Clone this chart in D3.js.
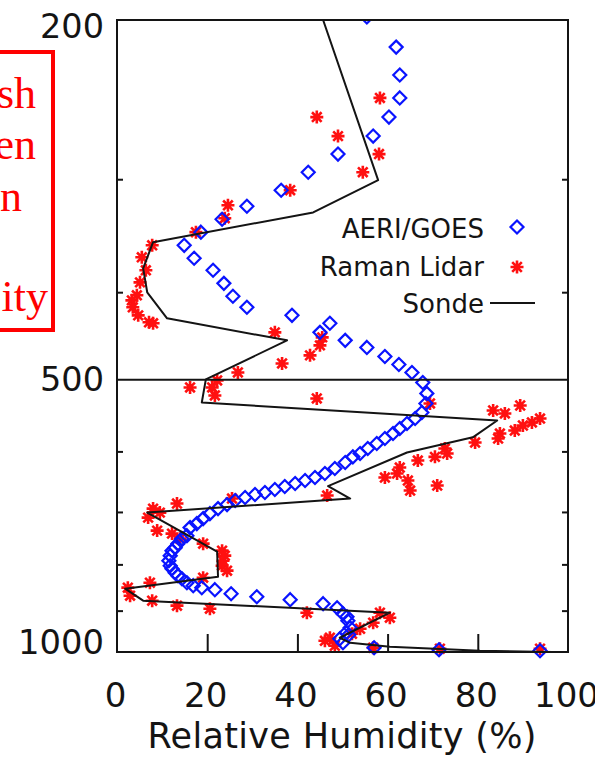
<!DOCTYPE html>
<html><head><meta charset="utf-8">
<script src="https://cdn.jsdelivr.net/npm/d3@7"></script>
<style>html,body{margin:0;padding:0;background:#fff;overflow:hidden}</style>
</head><body><svg id="c" width="595" height="762"></svg>
<script>
// ---------- data ----------
const xLabelValues = [0, 20, 40, 60, 80, 100];
const xTickValues = [20, 40, 60, 80];
const yLabelValues = [200, 500, 1000];
const yTickValues = [300, 400, 600, 700, 800, 900];
const xTitle = "Relative Humidity (%)";
const legendLabels = ["AERI/GOES", "Raman Lidar", "Sonde"];
const boxLines = ["sh", "en", "n", "", "ity"];

const sondeRH = [45.7,57.9,43.5,8.0,5.8,6.7,11.1,37.7,19.7,18.8,84.3,78.9,64.3,46.8,51.7,6.7,22.2,22.4,1.8,5.8,60.5,49.4,51.7,60.5,80.5,96.5];
const sondeP  = [200,300.7,326.5,352.2,376.4,400.1,427.5,452.2,499.5,529.7,554.6,578.9,601.7,655.4,676.5,701.1,774.5,825.5,851.0,877.5,904.8,964.4,976.8,986.9,996.8,1000];

const aeriRH = [55.4,61.9,62.7,62.7,60.3,56.8,49.0,42.4,36.4,28.8,23.3,18.6,14.9,17.1,21.3,23.7,25.7,28.8,38.8,47.2,45.0,50.6,55.4,59.4,62.5,65.4,67.8,
  68.7,68.5,67.6,66.1,64.3,62.7,61.2,59.4,57.6,55.6,53.9,52.3,50.6,48.3,46.1,43.9,41.7,39.5,37.2,35.0,32.8,30.6,28.4,26.2,24.4,22.4,20.6,19.1,17.7,16.2,
  15.5,14.4,13.5,12.9,12.2,11.8,11.5,11.8,12.2,12.9,13.5,14.4,15.5,16.9,18.8,21.7,25.3,31.0,38.4,45.7,48.8,50.1,51.0,51.2,51.7,50.8,51.4,49.4,50.1,57.0,71.4,93.8];
const aeriP = [198.5,214.3,230.1,243.9,256.1,268.8,281.4,294.7,308.5,321.4,332.2,343.3,355.0,366.9,378.3,391.1,404.2,415.7,424.3,433.0,443.1,452.2,460.4,471.1,480.8,490.7,503.4,
  517.6,531.0,543.4,551.8,558.9,566.0,573.3,580.6,588.1,595.6,603.2,608.4,617.2,626.8,634.8,641.3,646.2,651.2,656.2,661.2,666.3,669.7,674.8,680.0,687.0,694.1,703.0,712.0,721.1,728.5,
  743.6,749.3,758.9,766.6,772.5,782.4,792.5,802.7,808.8,817.1,823.3,829.7,838.2,844.6,848.9,853.2,862.0,868.6,875.2,884.2,893.3,907.1,914.1,923.4,940.0,952.1,957.0,966.8,976.8,989.2,994.3,996.8];

const lidarRH = [44.3,49.0,38.4,58.3,58.1,54.5,24.6,23.9,17.5,7.8,5.5,6.4,5.1,3.3,4.4,3.5,4.7,7.1,8.0,35.0,45.5,45.0,42.8,36.6,26.8,22.2,16.2,21.1,21.7,44.3,
  69.4,83.4,89.4,86.0,93.8,92.0,90.0,88.2,84.9,84.5,79.4,72.7,73.2,70.5,66.7,62.7,62.1,59.4,64.5,71.0,65.0,46.6,25.5,13.3,8.0,6.9,9.5,8.9,12.2,14.0,19.1,
  23.3,23.9,23.5,23.3,24.4,19.1,7.3,2.4,2.9,7.8,13.3,20.6,42.1,58.3,60.5,56.8,53.9,52.1,47.2,46.1,48.3,56.8,71.6,93.8];
const lidarP = [256.1,268.8,308.5,243.9,281.4,294.7,320.6,331.3,343.3,355.0,366.0,378.3,390.1,408.4,403.2,415.7,424.3,431.9,433.0,443.1,448.8,458.0,469.8,479.6,490.7,500.8,509.8,509.8,520.3,524.3,
  531.0,540.6,533.8,544.7,551.8,557.4,561.7,568.9,573.3,580.6,586.6,595.6,603.2,608.4,614.1,625.2,634.8,641.3,646.2,654.5,662.9,671.4,676.5,685.2,694.1,710.2,701.2,734.1,739.7,749.3,758.9,
  772.5,782.4,792.5,802.7,812.9,827.6,838.2,848.9,866.4,877.5,888.7,895.6,904.8,904.8,916.4,928.1,942.5,954.6,964.3,971.8,984.2,989.2,991.7,991.7];

// ---------- drawing ----------
const svg = d3.select("#c");
const FONT = "DejaVu Sans";
const INK = "#141414";
const x = d3.scaleLinear().domain([0, 100]).range([117, 568]);
const y = d3.scaleLog().domain([200, 1000]).range([20, 652]);

// red cut-off text box on the left
svg.append("rect").attr("x", -10).attr("y", 52).attr("width", 63).attr("height", 278)
  .attr("fill", "none").attr("stroke", "#ff0000").attr("stroke-width", 4);
const boxEnds = [36, 36, 22, 0, 48];
const boxBase = [108, 159, 211, 262, 311];
boxLines.forEach((t, i) => {
  if (!t) return;
  svg.append("text").attr("x", boxEnds[i]).attr("y", boxBase[i]).attr("text-anchor", "end")
    .attr("font-family", "Liberation Serif").attr("font-size", 44).attr("fill", "#ff0000").text(t);
});

// clip
svg.append("defs").append("clipPath").attr("id", "plotclip").append("rect")
  .attr("x", 110).attr("y", 20).attr("width", 470).attr("height", 645);

const plot = svg.append("g").attr("clip-path", "url(#plotclip)");

// lidar asterisks
const starPath = "M-6.5,0H6.5M0,-6.5V6.5M-4.8,-4.8L4.8,4.8M-4.8,4.8L4.8,-4.8";
plot.append("g").selectAll("path").data(lidarRH.map((v, i) => [v, lidarP[i]])).join("path")
  .attr("transform", d => `translate(${x(d[0])},${y(d[1])})`)
  .attr("d", starPath).attr("stroke", "#ff1010").attr("stroke-width", 2.6).attr("fill", "none");

// AERI diamonds
const diaPath = "M0,-6.5L6.5,0L0,6.5L-6.5,0Z";
plot.append("g").selectAll("path").data(aeriRH.map((v, i) => [v, aeriP[i]])).join("path")
  .attr("transform", d => `translate(${x(d[0])},${y(d[1])})`)
  .attr("d", diaPath).attr("stroke", "#0a14ff").attr("stroke-width", 2.2).attr("fill", "none");

// sonde line
plot.append("path").datum(sondeRH.map((v, i) => [v, sondeP[i]]))
  .attr("d", d3.line().x(d => x(d[0])).y(d => y(d[1])))
  .attr("fill", "none").attr("stroke", INK).attr("stroke-width", 2).attr("stroke-linejoin", "round");

// frame
svg.append("rect").attr("x", x(0)).attr("y", y(200)).attr("width", x(100) - x(0)).attr("height", y(1000) - y(200))
  .attr("fill", "none").attr("stroke", INK).attr("stroke-width", 2);
// 500 hPa line
svg.append("line").attr("x1", x(0)).attr("x2", x(100)).attr("y1", y(500)).attr("y2", y(500))
  .attr("stroke", INK).attr("stroke-width", 2);

// x ticks (inward)
const gxt = svg.append("g").attr("transform", `translate(0,${y(1000)})`)
  .call(d3.axisBottom(x).tickValues(xTickValues).tickSize(-18).tickFormat(""));
gxt.select(".domain").remove();
gxt.selectAll("line").attr("stroke", INK).attr("stroke-width", 2);

// y ticks left and right (inward)
const gyl = svg.append("g").attr("transform", `translate(${x(0)},0)`)
  .call(d3.axisLeft(y).tickValues(yTickValues).tickSize(-6).tickFormat(""));
gyl.select(".domain").remove();
gyl.selectAll("line").attr("stroke", INK).attr("stroke-width", 2);
const gyr = svg.append("g").attr("transform", `translate(${x(100)},0)`)
  .call(d3.axisRight(y).tickValues(yTickValues).tickSize(-6).tickFormat(""));
gyr.select(".domain").remove();
gyr.selectAll("line").attr("stroke", INK).attr("stroke-width", 2);

// x labels
const gxl = svg.append("g").attr("transform", `translate(-2,${y(1000)})`)
  .call(d3.axisBottom(x).tickValues(xLabelValues).tickSize(0).tickFormat(d3.format("d")));
gxl.select(".domain").remove();
gxl.selectAll("text").attr("y", 55).attr("dy", null)
  .attr("font-family", FONT).attr("font-size", 34).attr("fill", INK);

// y labels
const yDy = {200: 17, 500: 11, 1000: 1};
const gylab = svg.append("g").attr("transform", `translate(104,0)`)
  .call(d3.axisLeft(y).tickValues(yLabelValues).tickSize(0).tickPadding(0).tickFormat(d3.format("d")));
gylab.select(".domain").remove();
gylab.selectAll("text").attr("dy", d => yDy[d]).attr("x", 0)
  .attr("font-family", FONT).attr("font-size", 33).attr("fill", INK)
  .attr("textLength", d => d === 1000 ? 86 : 64).attr("lengthAdjust", "spacingAndGlyphs");

// x title
svg.append("text").attr("x", 342).attr("y", 748).attr("text-anchor", "middle")
  .attr("font-family", FONT).attr("font-size", 35).attr("fill", INK)
  .attr("textLength", 389).attr("lengthAdjust", "spacing").text(xTitle);

// legend
const legBase = [238, 276, 313];
legendLabels.forEach((t, i) => {
  svg.append("text").attr("x", 484).attr("y", legBase[i]).attr("text-anchor", "end")
    .attr("font-family", FONT).attr("font-size", 26).attr("fill", INK).text(t);
});
svg.append("path").attr("transform", "translate(517,227)").attr("d", diaPath)
  .attr("stroke", "#0a14ff").attr("stroke-width", 2.2).attr("fill", "none");
svg.append("path").attr("transform", "translate(517,267)").attr("d", starPath)
  .attr("stroke", "#ff1010").attr("stroke-width", 2.6).attr("fill", "none");
svg.append("line").attr("x1", 490).attr("x2", 535).attr("y1", 303).attr("y2", 303)
  .attr("stroke", INK).attr("stroke-width", 1.8);
</script></body></html>
